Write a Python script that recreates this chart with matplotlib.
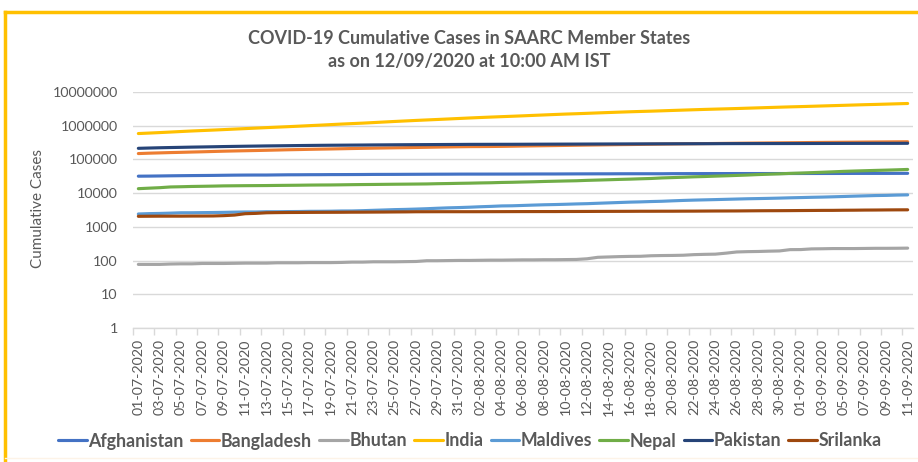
import numpy as np
import matplotlib.pyplot as plt
from matplotlib.lines import Line2D

# dates 01-07-2020 .. 11-09-2020
dates = ["%02d-07-2020" % d for d in range(1, 32)] + \
        ["%02d-08-2020" % d for d in range(1, 32)] + \
        ["%02d-09-2020" % d for d in range(1, 12)]

afghanistan = [31836, 32022, 32324, 32672, 32951, 33190, 33384, 33594, 33908, 34194, 34366, 34451, 34455, 34740, 34994, 35070,
               35229, 35301, 35475, 35526, 35615, 35727, 35928, 35981, 36036, 36157, 36263, 36368, 36471, 36542, 36675,
               36710, 36710, 36747, 36782, 36829, 36896, 37015, 37054, 37054, 37162, 37269, 37345, 37424, 37431, 37551, 37596,
               37599, 37599, 37599, 37856, 37894, 37953, 37999, 38054, 38070, 38113, 38129, 38140, 38143, 38162, 38196,
               38243, 38288, 38304, 38324, 38398, 38494, 38520, 38544, 38572, 38641, 38716]
bangladesh = [149258, 153277, 156391, 159679, 162417, 165618, 168645, 172134, 175494, 178443, 181129, 183795, 186894, 190057,
              193590, 196323, 199357, 202066, 204525, 207453, 210510, 213254, 216110, 218658, 221178, 223453, 226225, 229185,
              232194, 234889, 237661,
              239860, 240746, 242102, 244020, 246674, 249651, 252502, 255113, 257600, 260507, 263503, 266498, 269115, 271881,
              274525, 276549, 279144, 282344, 285091, 287959, 290360, 292625, 294598, 297083, 299628, 302147, 304583, 306794,
              308925, 310822, 312996,
              314946, 317528, 319686, 321615, 323565, 325157, 327359, 329251, 331078, 332970, 334762]
bhutan = [77, 77, 77, 79, 80, 80, 82, 82, 82, 83, 84, 84, 84, 86, 86, 86, 87, 87, 87, 88, 90, 90, 92, 92, 92, 93, 94, 99, 99,
          100, 101,
          101, 102, 103, 103, 104, 105, 105, 106, 106, 107, 108, 113, 125, 128, 131, 133, 134, 139, 141, 142, 144, 150, 153,
          155, 166, 180, 184, 186, 190, 193, 211,
          212, 222, 224, 227, 227, 227, 229, 231, 231, 232, 234]
india = [585493, 604641, 625544, 648315, 673165, 697413, 719665, 742417, 767296, 793802, 820916, 849553, 878254, 906752,
         936181, 968876, 1003832, 1038716, 1077618, 1118043, 1155191, 1192915, 1238635, 1287945, 1336861, 1385522,
         1435453, 1483156, 1531669, 1583792, 1638870,
         1695988, 1750723, 1803695, 1855745, 1908254, 1964536, 2027074, 2088611, 2153010, 2215074, 2268675, 2329638,
         2396637, 2461190, 2526192, 2589682, 2647663, 2702742, 2767273, 2836925, 2905823, 2975701, 3044940, 3106348,
         3167323, 3234474, 3310234, 3387500, 3463972, 3542733, 3621245,
         3691166, 3769523, 3853406, 3936747, 4023179, 4113811, 4204613, 4280422, 4370128, 4465863, 4562414]
maldives = [2410, 2468, 2501, 2553, 2617, 2620, 2643, 2664, 2691, 2731, 2762, 2762, 2812, 2813, 2839, 2851, 2887, 2894,
            2913, 2956, 2962, 3020, 3095, 3166, 3245, 3296, 3369, 3454, 3566, 3664, 3734,
            3829, 3949, 4048, 4177, 4217, 4318, 4424, 4520, 4589, 4680, 4788, 4874, 5007, 5140, 5276, 5412, 5508, 5639,
            5741, 5916, 6080, 6214, 6322, 6434, 6560, 6685, 6812, 6901, 7004, 7124, 7270,
            7393, 7526, 7636, 7788, 7956, 8144, 8315, 8485, 8581, 8766, 8889]
nepal = [13564, 14046, 14519, 15259, 15491, 15784, 15964, 16168, 16423, 16531, 16649, 16719, 16800, 16944, 17060, 17177,
         17344, 17444, 17502, 17658, 17844, 17994, 18094, 18241, 18374, 18483, 18613, 18752, 19063, 19273, 19547,
         19771, 20086, 20332, 20750, 21009, 21390, 21750, 22214, 22592, 22972, 23310, 23948, 24432, 24957, 25550, 26019,
         26660, 27241, 28257, 28938, 29645, 30483, 31117, 31934, 32678, 33533, 34417, 35529, 36455, 37340, 38561,
         39460, 40528, 41649, 42877, 44235, 45276, 46256, 47236, 48138, 49218, 50465]
pakistan = [213470, 217809, 221896, 225283, 228474, 231818, 234509, 237489, 240848, 243599, 246351, 248872, 251625, 253604,
            255769, 257914, 259999, 261917, 263496, 264715, 266096, 267428, 269191, 270400, 271887, 273113, 274289,
            275225, 276288, 277402, 278305,
            279699, 280029, 280461, 280914, 281136, 281863, 282645, 283487, 284121, 284660, 285191, 285921, 286674,
            287300, 288047, 288717, 289215, 289832, 290445, 290958, 291588, 292174, 292765, 293261, 294193, 294638,
            295053, 295372, 295636, 295849, 296149,
            296590, 297014, 297512, 298025, 298509, 298903, 299233, 299659, 299855, 300030, 300955]
srilanka = [2054, 2066, 2074, 2076, 2077, 2089, 2094, 2103, 2151, 2236, 2454, 2511, 2617, 2646, 2665, 2674, 2687, 2697,
            2703, 2710, 2724, 2730, 2742, 2753, 2768, 2781, 2805, 2810, 2814, 2815, 2815,
            2815, 2817, 2823, 2828, 2834, 2839, 2841, 2844, 2844, 2854, 2859, 2866, 2876, 2881, 2886, 2891, 2902, 2903,
            2909, 2911, 2923, 2928, 2941, 2953, 2959, 2966, 2984, 3001, 3012, 3020, 3032,
            3049, 3064, 3081, 3086, 3111, 3123, 3147, 3158, 3179, 3195, 3204]

names = ["Afghanistan", "Bangladesh", "Bhutan", "India", "Maldives", "Nepal", "Pakistan", "Srilanka"]
series = [afghanistan, bangladesh, bhutan, india, maldives, nepal, pakistan, srilanka]
colors = ["#4472C4", "#ED7D31", "#A5A5A5", "#FFC000", "#5B9BD5", "#70AD47", "#264478", "#9E480E"]
yticks = [1, 10, 100, 1000, 10000, 100000, 1000000, 10000000]

txt = "#595959"
plt.rcParams['font.family'] = ['Lato', 'DejaVu Sans']

fig = plt.figure(figsize=(9.18, 4.62), dpi=100)
ax = fig.add_axes([133 / 918, 1 - 328 / 462, (913 - 133) / 918, (328 - 92) / 462])

x = np.arange(len(dates))
for s, c, n in zip(series, colors, names):
    ax.plot(x, s, color=c, lw=2.25, label=n, solid_capstyle='round')

ax.set_yscale('log')
ax.set_ylim(1, 10000000)
ax.set_yticks(yticks)
ax.set_yticklabels([str(v) for v in yticks])
ax.yaxis.set_minor_locator(plt.NullLocator())
ax.set_xlim(-0.5, len(dates) - 0.5)
ax.set_xticks(x[::2])
ax.set_xticklabels(dates[::2], rotation=90)
# tick marks sit between every second category
ax.set_xticks(np.arange(-0.5, len(dates), 2), minor=True)
ax.tick_params(axis='x', which='major', length=0, pad=8, labelsize=10.3, colors=txt)
ax.tick_params(axis='x', which='minor', length=5, color="#D9D9D9", width=1)
ax.tick_params(axis='y', length=0, pad=11, labelsize=10.3, colors=txt)

ax.grid(axis='y', color="#D9D9D9", lw=1)
ax.set_axisbelow(True)
for sp in ['top', 'right', 'left']:
    ax.spines[sp].set_visible(False)
ax.spines['bottom'].set_color("#D9D9D9")
ax.spines['bottom'].set_linewidth(1)

fig.text(38 / 918, 1 - 209 / 462, "Cumulative Cases", rotation=90, ha='center', va='center', color=txt, fontsize=11)

fig.text(469 / 918, 1 - 38 / 462, "COVID-19 Cumulative Cases in SAARC Member States",
         ha='center', va='center', color=txt, fontsize=13, fontweight='bold')
fig.text(469 / 918, 1 - 62 / 462, "as on 12/09/2020 at 10:00 AM IST",
         ha='center', va='center', color=txt, fontsize=13, fontweight='bold')

fig.legend(loc='center', bbox_to_anchor=(470 / 918, 1 - 441 / 462), ncol=8, frameon=False,
           labelcolor=txt, handlelength=1.6, handletextpad=0.1, columnspacing=0.4,
           prop={'weight': 'bold', 'size': 12.8})

# chart border
fig.add_artist(Line2D([5 / 918, 5 / 918], [0, 1 - 12 / 462], color="#FFC000", lw=2.5, transform=fig.transFigure))
fig.add_artist(Line2D([5 / 918, 1], [1 - 12 / 462, 1 - 12 / 462], color="#FFC000", lw=2.5, transform=fig.transFigure))
fig.add_artist(Line2D([5 / 918, 1], [1 - 458 / 462, 1 - 458 / 462], color="#FDF3E7", lw=1, transform=fig.transFigure))

fig.savefig("out.png", dpi=100)
